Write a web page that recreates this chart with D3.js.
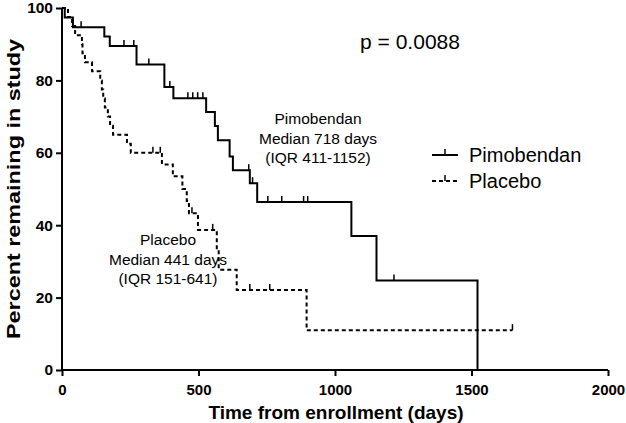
<!DOCTYPE html>
<html>
<head>
<meta charset="utf-8">
<script src="https://cdn.jsdelivr.net/npm/d3@7"></script>
<style>
  body { margin: 0; background: #fff; }
  svg { display: block; font-family: "Liberation Sans", Arial, sans-serif; }
</style>
</head>
<body>
<div id="chart"></div>
<script>
// Kaplan-Meier steps (days, percent remaining)
const pimoTimes = [10, 40, 155, 175, 273, 375, 408, 528, 560, 571, 614, 626, 688, 715, 1060, 1152, 1522];
const pimoSurv = [97.4, 94.7, 92.1, 89.5, 84.4, 78.2, 75.1, 71.3, 67.4, 63.5, 59.0, 55.2, 51.6, 46.4, 37.0, 24.7, 0];
const pimoCensor = [70, 227, 263, 318, 395, 461, 479, 497, 516, 684, 698, 754, 805, 885, 900, 1216];

const placTimes = [22, 37, 48, 73, 75, 84, 110, 140, 146, 151, 157, 168, 176, 187, 238, 252,
  366, 406, 441, 457, 465, 498, 567, 574, 640, 896];
const placSurv = [97.5, 95, 92.5, 90, 87.5, 85, 82.5, 80, 77.5, 75, 72.5, 70, 67.5, 65, 62.5, 60,
  56.8, 53.5, 50, 46.7, 43.3, 38.7, 33.2, 27.7, 22.1, 11.0];
const placCensor = [333, 360, 476, 552, 688, 761, 1650];

const xTicks = [0, 500, 1000, 1500, 2000];
const yTicks = [0, 20, 40, 60, 80, 100];

const width = 626, height = 423;
const margin = {top: 8, right: 18, bottom: 53, left: 62};

const x = d3.scaleLinear([0, 2000], [margin.left, width - margin.right]);
const y = d3.scaleLinear([0, 100], [height - margin.bottom, margin.top]);

const svg = d3.select("#chart").append("svg")
  .attr("width", width)
  .attr("height", height);

// axes
svg.append("g")
  .attr("transform", `translate(0,${y(0)})`)
  .call(d3.axisBottom(x).tickValues(xTicks).tickFormat(d3.format("d")).tickSize(6).tickPadding(8))
  .call(g => g.select(".domain").attr("stroke-width", 2).attr("d", `M${x(0)},0H${x(2000)}`))
  .call(g => g.selectAll(".tick line").attr("stroke-width", 2))
  .call(g => g.selectAll(".tick text").attr("font-size", 15).attr("font-weight", "bold")
    .attr("font-family", "'Liberation Sans', Arial, sans-serif").attr("fill", "#000"));

svg.append("g")
  .attr("transform", `translate(${x(0)},0)`)
  .call(d3.axisLeft(y).tickValues(yTicks).tickSize(6).tickPadding(3))
  .call(g => g.select(".domain").attr("stroke-width", 2).attr("d", `M0,${y(0)}V${y(100)}`))
  .call(g => g.selectAll(".tick line").attr("stroke-width", 2))
  .call(g => g.selectAll(".tick text").attr("font-size", 15.5).attr("font-weight", "bold")
    .attr("font-family", "'Liberation Sans', Arial, sans-serif").attr("fill", "#000"));

svg.append("text")
  .attr("x", 336).attr("y", 419)
  .attr("text-anchor", "middle")
  .attr("font-size", 19).attr("font-weight", "bold")
  .text("Time from enrollment (days)");

svg.append("text")
  .attr("transform", `translate(20,${y(50)}) rotate(-90)`)
  .attr("text-anchor", "middle")
  .attr("font-size", 19).attr("font-weight", "bold")
  .attr("textLength", 300).attr("lengthAdjust", "spacingAndGlyphs")
  .text("Percent remaining in study");

// KM curves
function stepPoints(times, surv, endTime) {
  const pts = [[0, 100]];
  times.forEach((t, i) => pts.push([t, surv[i]]));
  if (endTime !== undefined) pts.push([endTime, surv[surv.length - 1]]);
  return pts;
}

function survAt(times, surv, t) {
  let s = 100;
  times.forEach((tt, i) => { if (tt <= t) s = surv[i]; });
  return s;
}

const line = d3.line().x(d => x(d[0])).y(d => y(d[1])).curve(d3.curveStepAfter);

const groups = [
  {times: pimoTimes, surv: pimoSurv, censor: pimoCensor, end: undefined, dash: null},
  {times: placTimes, surv: placSurv, censor: placCensor, end: 1650, dash: "4,3"}
];

groups.forEach(gr => {
  svg.append("path")
    .attr("d", line(stepPoints(gr.times, gr.surv, gr.end)))
    .attr("fill", "none")
    .attr("stroke", "#000")
    .attr("stroke-width", 2)
    .attr("stroke-dasharray", gr.dash);
  svg.append("g").selectAll("line")
    .data(gr.censor)
    .join("line")
    .attr("x1", d => x(d)).attr("x2", d => x(d))
    .attr("y1", d => y(survAt(gr.times, gr.surv, d)))
    .attr("y2", d => y(survAt(gr.times, gr.surv, d)) - 6)
    .attr("stroke", "#000")
    .attr("stroke-width", 1.5);
});

// annotations
svg.append("text").attr("x", 410).attr("y", 49).attr("text-anchor", "middle")
  .attr("font-size", 21).text("p = 0.0088");

const pimoNote = ["Pimobendan", "Median 718 days", "(IQR 411-1152)"];
const placNote = ["Placebo", "Median 441 days", "(IQR 151-641)"];
pimoNote.forEach((t, i) => svg.append("text").attr("x", 318).attr("y", 124 + i * 19.5)
  .attr("text-anchor", "middle").attr("font-size", 15.5).text(t));
placNote.forEach((t, i) => svg.append("text").attr("x", 168).attr("y", 245 + i * 19.5)
  .attr("text-anchor", "middle").attr("font-size", 15.5).text(t));

// legend
const legendNames = ["Pimobendan", "Placebo"];
const legendDash = [null, "4,3"];
legendNames.forEach((name, i) => {
  const ly = 155 + i * 26;
  svg.append("line").attr("x1", 432).attr("x2", 458).attr("y1", ly).attr("y2", ly)
    .attr("stroke", "#000").attr("stroke-width", 2).attr("stroke-dasharray", legendDash[i]);
  svg.append("line").attr("x1", 445).attr("x2", 445).attr("y1", ly).attr("y2", ly - 6)
    .attr("stroke", "#000").attr("stroke-width", 1.5);
  svg.append("text").attr("x", 469).attr("y", ly + 7).attr("font-size", 20).text(name);
});
</script>
</body>
</html>
